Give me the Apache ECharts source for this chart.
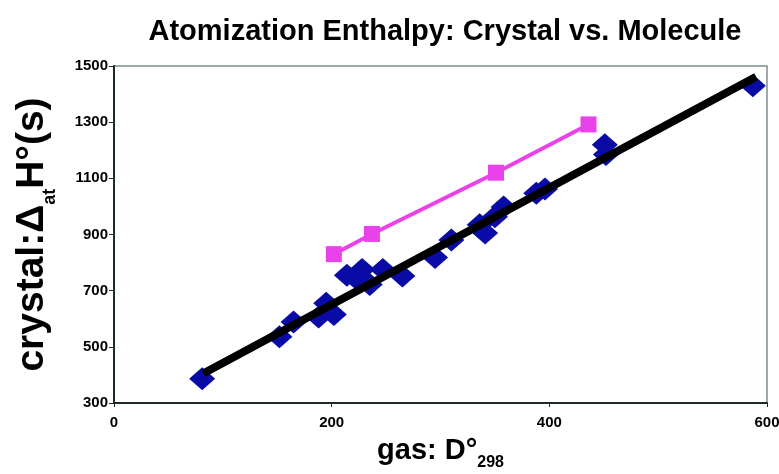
<!DOCTYPE html>
<html>
<head>
<meta charset="utf-8">
<script src="https://cdn.jsdelivr.net/npm/echarts@6/dist/echarts.min.js"></script>
<style>
  html, body { margin: 0; padding: 0; background: #fff; }
  #chart { width: 779px; height: 474px; }
</style>
</head>
<body>
<div id="chart"></div>
<script>
// Crystal atomization enthalpy vs. gas-phase dissociation energy
const crystalX = [81, 152, 165, 188, 195, 202, 214, 222, 228, 235, 247, 265, 295, 310, 336, 341, 350, 358, 388, 396, 451, 452, 587];
const crystalY = [386, 536, 588, 606, 655, 615, 755, 745, 775, 722, 775, 752, 818, 880, 935, 905, 963, 998, 1047, 1062, 1220, 1185, 1430];

const moleculeX = [202, 237, 351, 436];
const moleculeY = [830, 902, 1120, 1292];

// fitted line end points
const fitX = [82, 590];
const fitY = [405, 1462];

const xTicks = [0, 200, 400, 600];
const yTicks = [300, 500, 700, 900, 1100, 1300, 1500];

const zip = (a, b) => a.map((v, i) => [v, b[i]]);

const FONT = '"Liberation Sans", Arial, sans-serif';
const AXIS = '#1c2a2a';

const chart = echarts.init(document.getElementById('chart'));
chart.setOption({
  animation: false,
  backgroundColor: '#fff',
  title: {
    text: 'Atomization Enthalpy: Crystal vs. Molecule',
    left: 440,
    textAlign: 'center',
    top: 12,
    textStyle: { fontFamily: FONT, fontWeight: 'bold', fontSize: 29, color: '#000' }
  },
  grid: {
    left: 114, right: 12, top: 66, bottom: 71,
    containLabel: false,
    outerBoundsMode: 'none',
    show: true, borderColor: '#7d8c8c', borderWidth: 1.5, backgroundColor: '#fff'
  },
  xAxis: {
    type: 'value',
    min: xTicks[0], max: xTicks[xTicks.length - 1], interval: 200,
    axisLine: { show: true, onZero: false, lineStyle: { color: AXIS, width: 2 } },
    axisTick: { show: true, inside: false, length: 4, lineStyle: { color: AXIS, width: 1 } },
    axisLabel: { color: '#000', fontFamily: FONT, fontWeight: 'bold', fontSize: 15, margin: 12, formatter: v => String(v) },
    splitLine: { show: false },
    name: '{m|gas: D°}{s|298}',
    nameLocation: 'middle',
    nameGap: 28,
    nameTextStyle: {
      rich: {
        m: { fontFamily: FONT, fontWeight: 'bold', fontSize: 29, color: '#000', lineHeight: 40, verticalAlign: 'middle' },
        s: { fontFamily: FONT, fontWeight: 'bold', fontSize: 16, color: '#000', lineHeight: 14, verticalAlign: 'bottom' }
      }
    }
  },
  yAxis: {
    type: 'value',
    min: yTicks[0], max: yTicks[yTicks.length - 1],
    axisLine: { show: true, onZero: false, lineStyle: { color: AXIS, width: 2 } },
    axisTick: { show: true, inside: false, length: 5, customValues: yTicks, lineStyle: { color: AXIS, width: 1 } },
    axisLabel: { color: '#000', fontFamily: FONT, fontWeight: 'bold', fontSize: 15, margin: 6, customValues: yTicks, formatter: v => String(v) },
    splitLine: { show: false },
    name: '{m|crystal:Δ}{s|at}{m|H°(s)}',
    nameLocation: 'middle',
    nameGap: 55,
    nameTextStyle: {
      rich: {
        m: { fontFamily: FONT, fontWeight: 'bold', fontSize: 39, color: '#000', lineHeight: 54, verticalAlign: 'middle' },
        s: { fontFamily: FONT, fontWeight: 'bold', fontSize: 18, color: '#000', lineHeight: 17, verticalAlign: 'bottom' }
      }
    }
  },
  series: [
    {
      name: 'crystal',
      type: 'scatter',
      data: zip(crystalX, crystalY),
      symbol: 'diamond',
      symbolSize: [26, 23],
      itemStyle: { color: '#0a0aa6', opacity: 1 },
      z: 2
    },
    {
      name: 'fit',
      type: 'line',
      data: zip(fitX, fitY),
      symbol: 'none',
      lineStyle: { color: '#000', width: 8 },
      z: 3
    },
    {
      name: 'molecule',
      type: 'line',
      data: zip(moleculeX, moleculeY),
      symbol: 'rect',
      symbolSize: 16,
      itemStyle: { color: '#ea42ea' },
      lineStyle: { color: '#ea42ea', width: 4 },
      z: 4
    }
  ]
});
</script>
</body>
</html>
